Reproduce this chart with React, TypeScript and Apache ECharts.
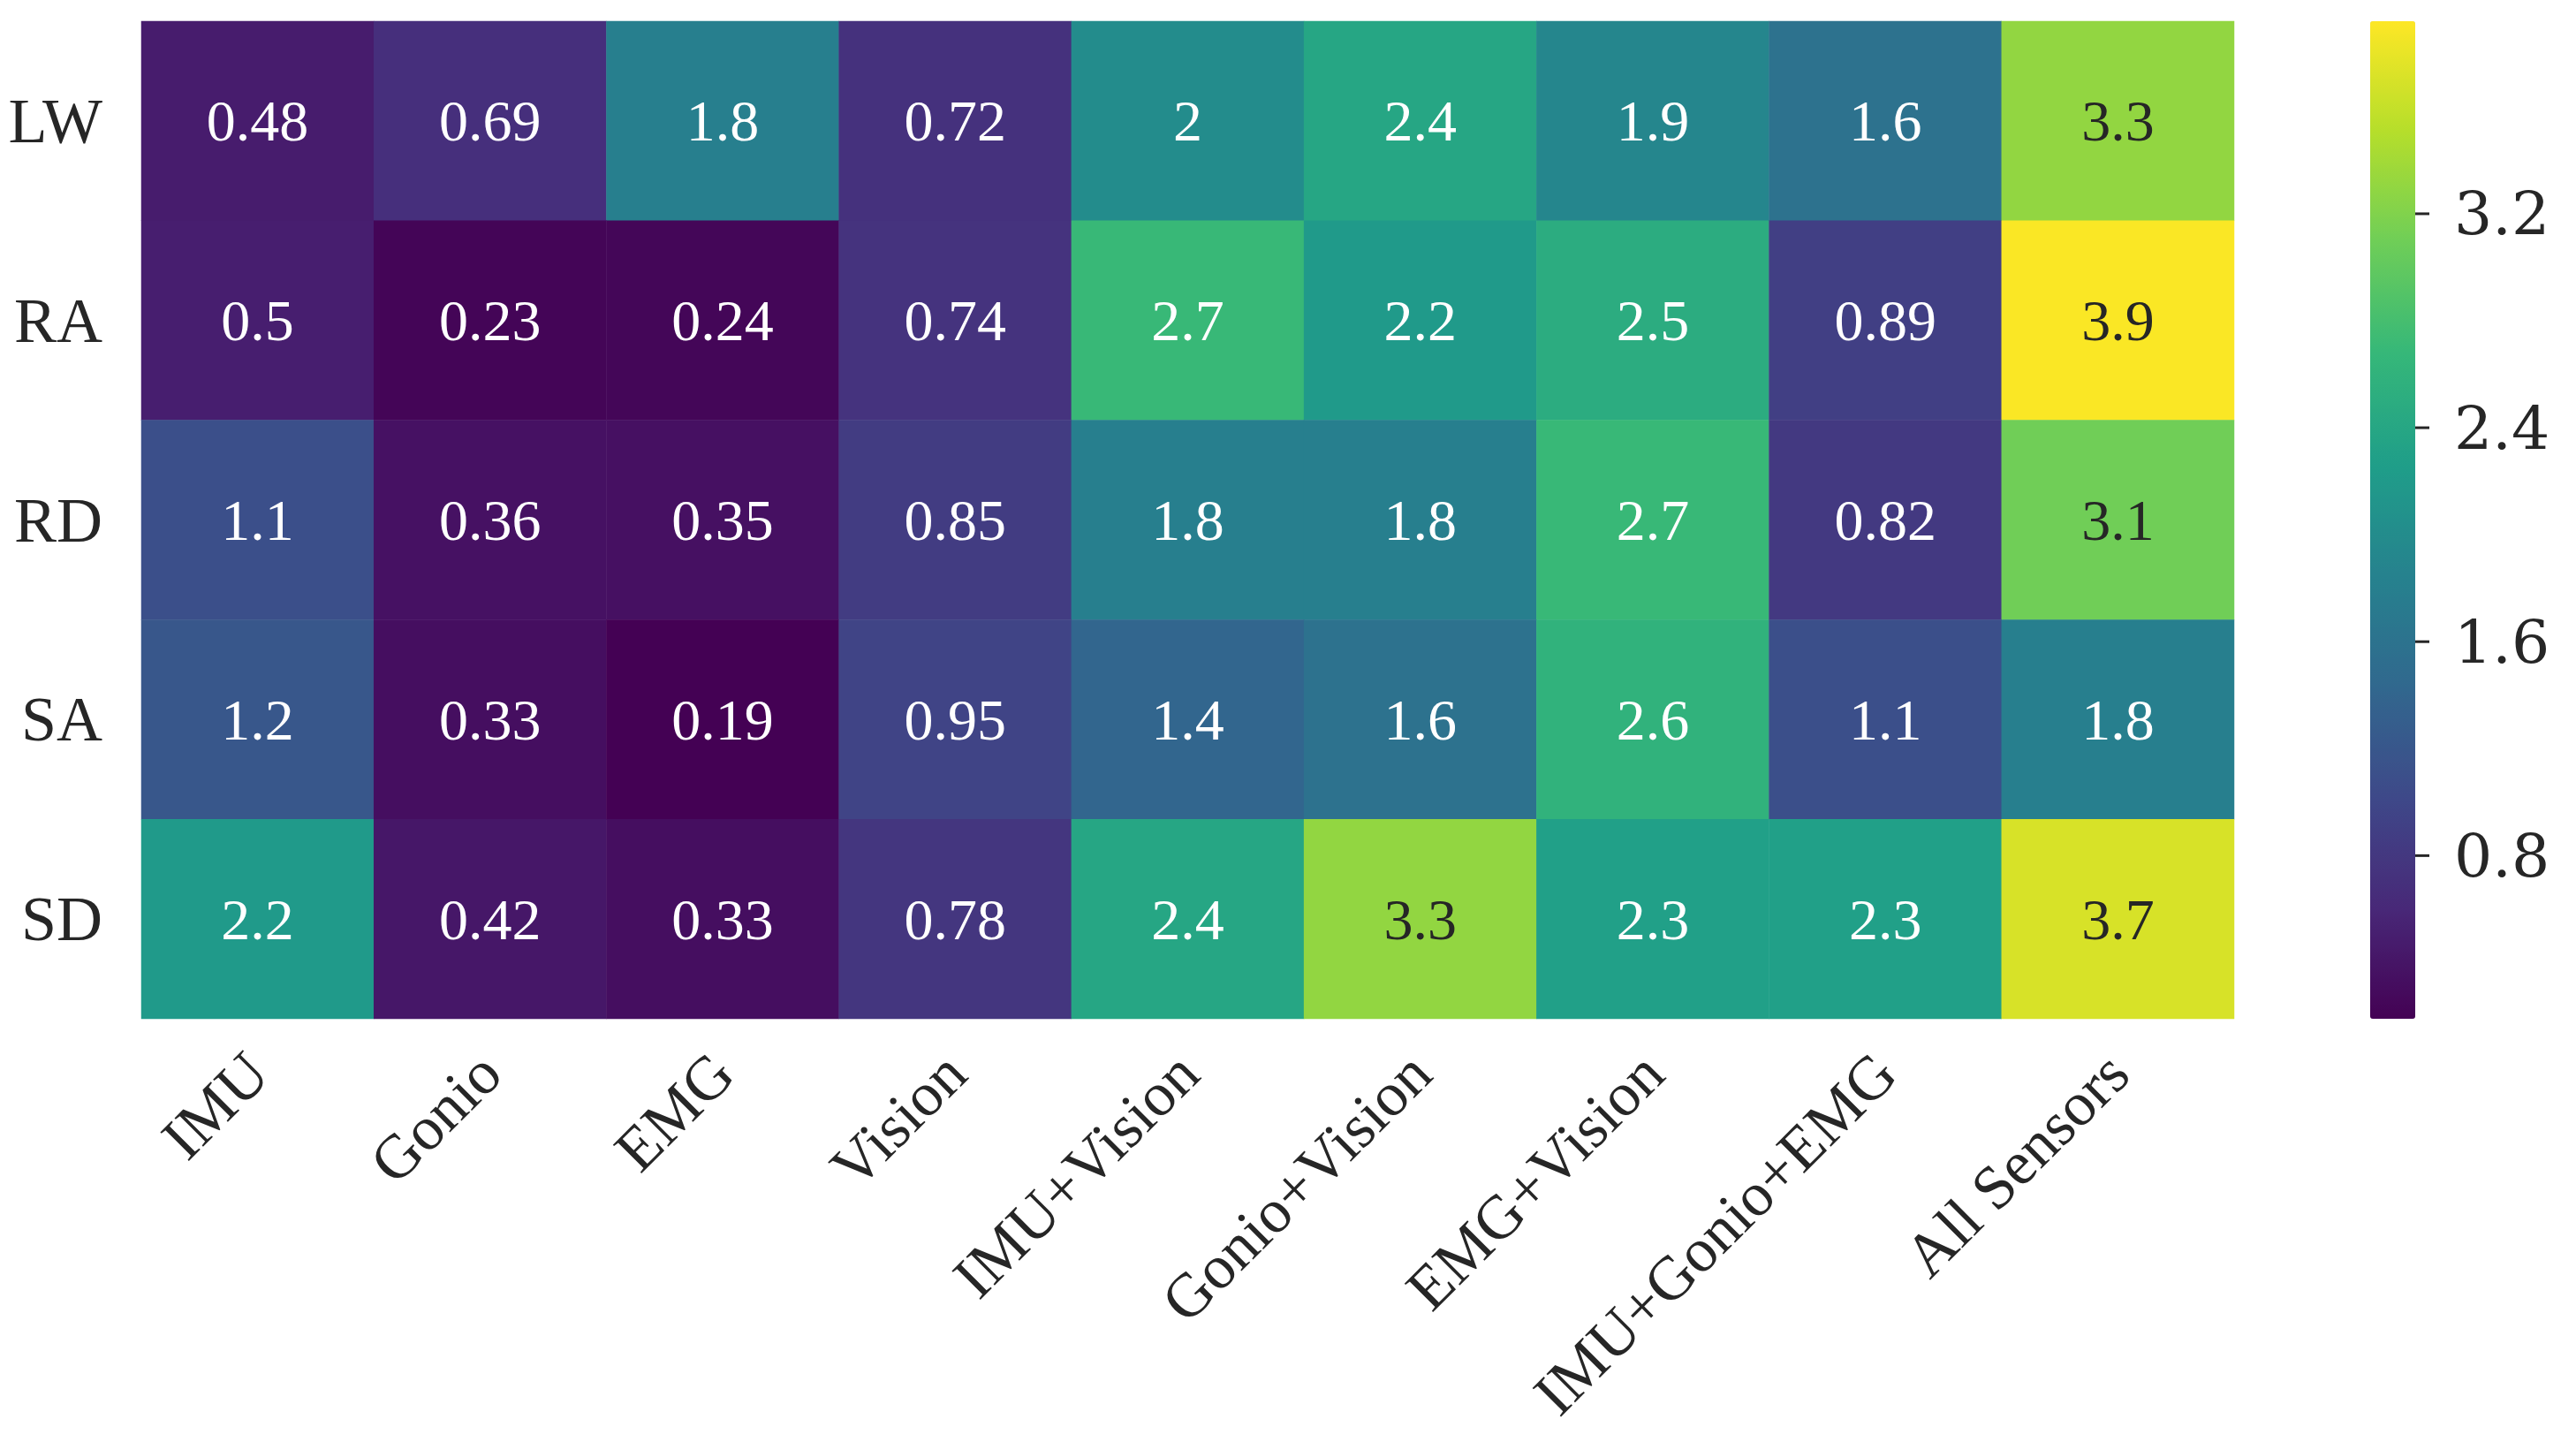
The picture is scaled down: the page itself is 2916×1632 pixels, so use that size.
import React, { useEffect, useRef } from "react";
import * as echarts from "echarts";

const xCategories = [
  "IMU",
  "Gonio",
  "EMG",
  "Vision",
  "IMU+Vision",
  "Gonio+Vision",
  "EMG+Vision",
  "IMU+Gonio+EMG",
  "All Sensors",
];
const yCategories = ["LW", "RA", "RD", "SA", "SD"];

const rowLW = [0.48, 0.69, 1.8, 0.72, 2.0, 2.4, 1.9, 1.6, 3.3];
const rowRA = [0.5, 0.23, 0.24, 0.74, 2.7, 2.2, 2.5, 0.89, 3.9];
const rowRD = [1.1, 0.36, 0.35, 0.85, 1.8, 1.8, 2.7, 0.82, 3.1];
const rowSA = [1.2, 0.33, 0.19, 0.95, 1.4, 1.6, 2.6, 1.1, 1.8];
const rowSD = [2.2, 0.42, 0.33, 0.78, 2.4, 3.3, 2.3, 2.3, 3.7];
const rows = [rowLW, rowRA, rowRD, rowSA, rowSD];

const colorMin = 0.19;
const colorMax = 3.92;
const colorbarTicks = [0.8, 1.6, 2.4, 3.2];

const viridis = [
  "#440154",
  "#482878",
  "#3e4989",
  "#31688e",
  "#26828e",
  "#1f9e89",
  "#35b779",
  "#6ece58",
  "#b5de2b",
  "#fde725",
];

const fmt = (v: number) => String(Number(v.toPrecision(2)));

export default function App() {
  const ref = useRef<HTMLDivElement>(null);
  useEffect(() => {
    if (!ref.current) return;
    const chart = echarts.init(ref.current, null, { renderer: "svg" });
    const data: any[] = [];
    rows.forEach((row, yi) =>
      row.forEach((v, xi) => {
        data.push({
          value: [xi, yi, v],
          label: { color: v > 2.9 ? "#262626" : "#ffffff" },
        });
      })
    );
    const textColor = "#262626";
    chart.setOption({
      animation: false,
      backgroundColor: "#ffffff",
      grid: [
        { left: 160, top: 24, width: 2369, height: 1129 },
        { left: 2683, top: 24, width: 51, height: 1129 },
      ],
      xAxis: [
        {
          type: "category",
          gridIndex: 0,
          data: xCategories,
          axisLine: { show: false },
          axisTick: { show: false },
          splitLine: { show: false },
          axisLabel: {
            rotate: 45,
            margin: 50,
            fontFamily: "Liberation Serif",
            fontSize: 70,
            color: textColor,
            interval: 0,
          },
        },
        { type: "value", gridIndex: 1, show: false },
      ],
      yAxis: [
        {
          type: "category",
          gridIndex: 0,
          data: yCategories,
          inverse: true,
          axisLine: { show: false },
          axisTick: { show: false },
          splitLine: { show: false },
          axisLabel: {
            margin: 44,
            fontFamily: "Liberation Serif",
            fontSize: 72,
            color: textColor,
          },
        },
        {
          type: "value",
          gridIndex: 1,
          position: "right",
          min: colorMin,
          max: colorMax,
          axisLine: { show: false },
          splitLine: { show: false },
          axisTick: { show: false },
          axisLabel: {
            show: true,
            customValues: colorbarTicks,
            margin: 0,
            fontFamily: "DejaVu Serif",
            fontSize: 68,
            color: textColor,
            formatter: (v: number) => "{tick|}{gap|}" + String(v),
            rich: {
              tick: {
                width: 16,
                height: 3,
                backgroundColor: textColor,
              },
              gap: { width: 28 },
            },
          },
        },
      ],
      visualMap: {
        type: "continuous",
        min: colorMin,
        max: colorMax,
        calculable: false,
        orient: "vertical",
        left: 2683,
        top: 24,
        itemWidth: 51,
        itemHeight: 1129,
        padding: 0,
        text: null,
        seriesIndex: 0,
        hoverLink: false,
        inRange: { color: viridis },
      },
      series: [
        {
          type: "heatmap",
          xAxisIndex: 0,
          yAxisIndex: 0,
          data,
          label: {
            show: true,
            fontFamily: "Liberation Serif",
            fontSize: 66,
            formatter: (p: any) => fmt(p.value[2]),
          },
          itemStyle: { borderWidth: 0 },
          emphasis: { disabled: true },
        },
      ],
    });
    return () => chart.dispose();
  }, []);
  return (
    <div
      ref={ref}
      style={{
        position: "absolute",
        left: 0,
        top: 0,
        width: 2916,
        height: 1632,
      }}
    />
  );
}
